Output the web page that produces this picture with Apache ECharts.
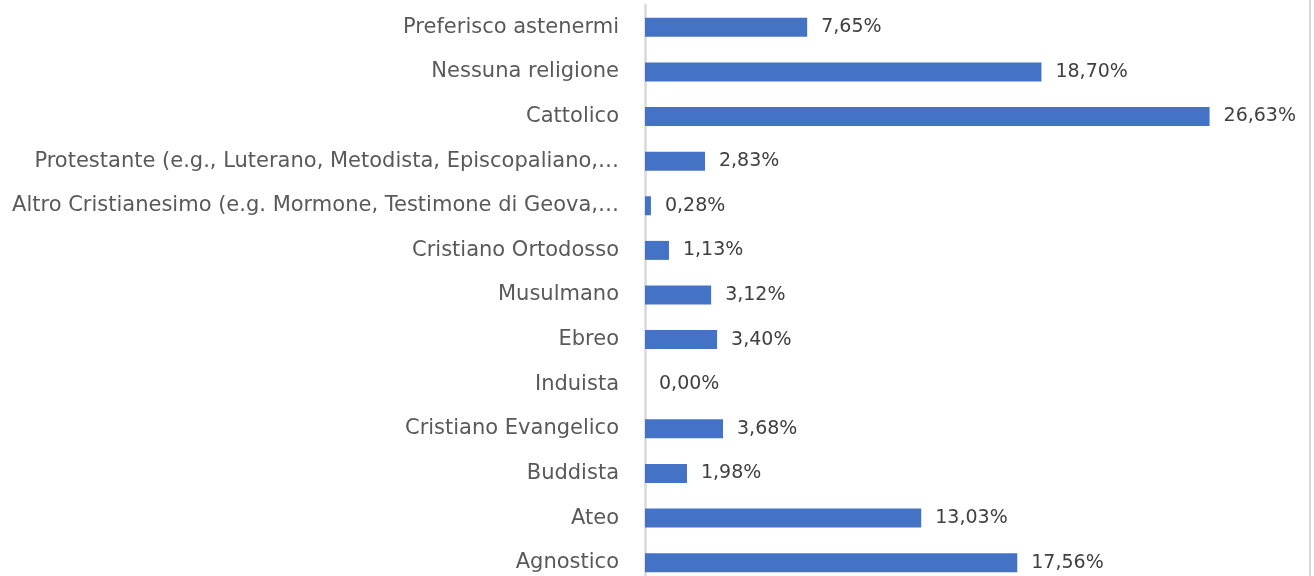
<!DOCTYPE html>
<html>
<head>
<meta charset="utf-8">
<script src="https://cdn.jsdelivr.net/npm/echarts@6/dist/echarts.min.js"></script>
<style>
    html, body { margin: 0; padding: 0; background: #fff; }
    #main { width: 1314px; height: 576px; }
</style>
</head>
<body>
<div id="main"></div>
<script>
    // categorie, dall'alto verso il basso
    var categories = [
        'Preferisco astenermi',
        'Nessuna religione',
        'Cattolico',
        'Protestante (e.g., Luterano, Metodista, Episcopaliano,…',
        'Altro Cristianesimo (e.g. Mormone, Testimone di Geova,…',
        'Cristiano Ortodosso',
        'Musulmano',
        'Ebreo',
        'Induista',
        'Cristiano Evangelico',
        'Buddista',
        'Ateo',
        'Agnostico'
    ];
    var values = [7.65, 18.70, 26.63, 2.83, 0.28, 1.13, 3.12, 3.40, 0.00, 3.68, 1.98, 13.03, 17.56];

    var myChart = echarts.init(document.getElementById('main'));
    var option = {
        animation: false,
        grid: { left: 645, right: 33, top: 5, bottom: -9, outerBoundsMode: 'none', containLabel: false },
        xAxis: {
            type: 'value',
            min: 0,
            max: 30,
            show: false
        },
        yAxis: {
            type: 'category',
            inverse: true,
            data: categories,
            axisLine: { show: true, lineStyle: { color: '#d9d9d9', width: 2.5 } },
            axisTick: { show: false },
            axisLabel: {
                color: '#595959',
                fontSize: 21,
                fontFamily: 'DejaVu Sans',
                margin: 26
            }
        },
        series: [{
            type: 'bar',
            data: values,
            barWidth: 19,
            itemStyle: { color: '#4472C4' },
            label: {
                show: true,
                position: 'right',
                distance: 14,
                color: '#404040',
                fontSize: 19,
                fontFamily: 'DejaVu Sans',
                formatter: function (p) {
                    return p.value.toFixed(2).replace('.', ',') + '%';
                }
            }
        }]
    };
    // bordo destro dell'immagine
    option.graphic = [{
        type: 'line',
        shape: { x1: 1310, y1: 0, x2: 1310, y2: 576 },
        style: { stroke: '#d9d9d9', lineWidth: 2 }
    }];
    myChart.setOption(option);
</script>
</body>
</html>
